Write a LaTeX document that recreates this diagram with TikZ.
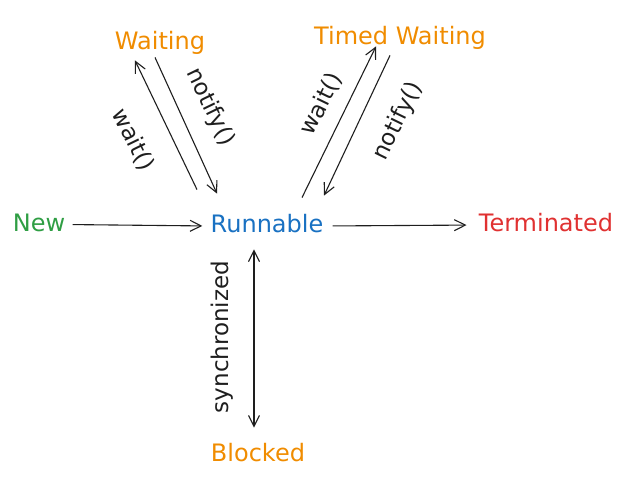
\documentclass[tikz,border=0pt]{standalone}
\usepackage{fontspec}
\setmainfont{DejaVu Sans}
\usepackage{tikz}
\usetikzlibrary{positioning, calc, arrows.meta}
\definecolor{newgreen}{HTML}{2F9E44}
\definecolor{runblue}{HTML}{1971C2}
\definecolor{termred}{HTML}{E03131}
\definecolor{waitorange}{HTML}{F08C00}
\definecolor{inkgray}{HTML}{1E1E1E}
\tikzset{every picture/.append style={thick}}

\begin{document}
\begin{tikzpicture}[x=1pt, y=-1pt,
        state/.style={inner sep=0pt, text height=18pt, text depth=5pt, font=\fontsize{24}{28}\selectfont},
        lbl/.style={inner sep=0pt, text=inkgray, font=\fontsize{23}{27}\selectfont},
        arr/.style={-{Straight Barb[length=11pt,width=11pt]}, draw=inkgray, line width=1.1pt}]
        \useasboundingbox (0,0) rectangle (632,483);

        % ----------------------------------------------------
        % States
        % ----------------------------------------------------
        \node[state, text=newgreen] (new) at (39,224.5) {New};
        \node[state, text=runblue] (runnable) at (267,226) {Runnable};
        \node[state, text=termred] (terminated) at (546,225) {Terminated};
        \node[state, text=waitorange] (waiting) at (160,42.5) {Waiting};
        \node[state, text=waitorange] (timed) at (400,38) {Timed Waiting};
        \node[state, text=waitorange] (blocked) at (258,455) {Blocked};

        % ----------------------------------------------------
        % Transitions
        % ----------------------------------------------------
        \draw[arr, shorten <=7pt, shorten >=8pt] (new.east) -- (runnable.west);
        \draw[arr, shorten <=9pt, shorten >=12pt] (runnable.east) -- (terminated.west);

        % Waiting pair
        \draw[arr] ([shift={(-70,-24.5)}]runnable.north) -- ([shift={(-25,6)}]waiting.south);
        \draw[arr] ([shift={(-5,3)}]waiting.south) -- ([shift={(-50,-20.5)}]runnable.north);
        \node[lbl, rotate=-64] (waitL) at (133,140) {wait()};
        \node[lbl, rotate=-64] (notifyL) at (210,107) {notify()};

        % Timed waiting pair
        \draw[arr] ([shift={(35,-16.5)}]runnable.north) -- ([shift={(-24,-3.5)}]timed.south);
        \draw[arr] ([shift={(-10,5.5)}]timed.south) -- ([shift={(57,-18.5)}]runnable.north);
        \node[lbl, rotate=64] (waitR) at (321,104) {wait()};
        \node[lbl, rotate=64] (notifyR) at (398,121) {notify()};

        % Blocked
        \draw[arr, {Straight Barb[length=11pt,width=11pt]}-{Straight Barb[length=11pt,width=11pt]}]
            ([shift={(-13,11.5)}]runnable.south) -- ([shift={(-4,-15.5)}]blocked.north);
        \node[lbl, rotate=90] (sync) at (222,337) {synchronized};
    \end{tikzpicture}
\end{document}
